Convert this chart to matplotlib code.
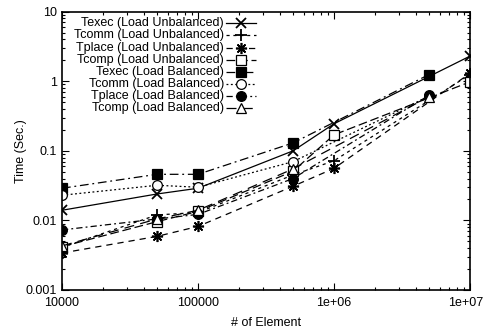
import matplotlib
matplotlib.use("Agg")
import matplotlib.pyplot as plt
from matplotlib.ticker import LogLocator, FixedLocator, FixedFormatter, NullFormatter
from matplotlib.transforms import ScaledTranslation

plt.rcParams['font.family'] = ['Liberation Sans', 'DejaVu Sans']

# ---- data ----
x_unbal = [1e4, 5e4, 1e5, 5e5, 1e6, 1e7]
x_bal = [1e4, 5e4, 1e5, 5e5, 5e6]

texec_unbal = [0.014, 0.024, 0.029, 0.10, 0.245, 2.3]
tcomm_unbal = [0.0041, 0.012, 0.013, 0.045, 0.072, 1.25]
tplace_unbal = [0.0034, 0.0059, 0.0082, 0.031, 0.056, 1.3]
tcomp_unbal = [0.0042, 0.0096, 0.0135, 0.051, 0.17, 0.98]

texec_bal = [0.029, 0.046, 0.046, 0.13, 1.25]
tcomm_bal = [0.023, 0.032, 0.030, 0.070, 0.61]
tplace_bal = [0.0073, 0.0105, 0.0122, 0.040, 0.63]
tcomp_bal = [0.0043, 0.0105, 0.014, 0.055, 0.60]

labels = ["Texec (Load Unbalanced)", "Tcomm (Load Unbalanced)",
          "Tplace (Load Unbalanced)", "Tcomp (Load Unbalanced)",
          "Texec (Load Balanced)", "Tcomm (Load Balanced)",
          "Tplace (Load Balanced)", "Tcomp (Load Balanced)"]

x_ticks = [1e4, 1e5, 1e6, 1e7]
x_ticklabels = ["10000", "100000", "1e+06", "1e+07"]
y_ticks = [0.001, 0.01, 0.1, 1, 10]
y_ticklabels = ["0.001", "0.01", "0.1", "1", "10"]

# ---- styles ----
series = [
    (x_unbal, texec_unbal, dict(linestyle='-', marker='x', mfc='black', ms=7, mew=1.3)),
    (x_unbal, tcomm_unbal, dict(linestyle=(0, (2.5, 3)), marker='+', mfc='black', ms=8, mew=1.3)),
    (x_unbal, tplace_unbal, dict(linestyle=(0, (5, 4)), marker=(8, 2, 0), mfc='black', ms=8, mew=1.2)),
    (x_unbal, tcomp_unbal, dict(linestyle=(0, (7, 3)), marker='s', mfc='white', ms=6.5, mew=0.9)),
    (x_bal, texec_bal, dict(linestyle=(0, (7, 3, 1.5, 3)), marker='s', mfc='black', ms=6.5, mew=0.9)),
    (x_bal, tcomm_bal, dict(linestyle=(0, (1.5, 2)), marker='o', mfc='white', ms=7, mew=0.9)),
    (x_bal, tplace_bal, dict(linestyle=(0, (5, 2.5, 1.5, 2.5)), marker='o', mfc='black', ms=7, mew=0.9)),
    (x_bal, tcomp_bal, dict(linestyle=(0, (8, 5)), marker='^', mfc='white', ms=6.5, mew=0.9)),
]

fig = plt.figure(figsize=(4.84, 3.31), dpi=100)
ax = fig.add_axes([62/484, 1 - 290/331, (470-62)/484, (290-11.7)/331])

for (xs, ys, st), lab in zip(series, labels):
    ax.plot(xs, ys, color='black', lw=0.9, mec='black', **st)

ax.set_xscale('log')
ax.set_yscale('log')
ax.set_xlim(1e4, 1e7)
ax.set_ylim(0.001, 10)

ax.xaxis.set_major_locator(FixedLocator(x_ticks))
ax.xaxis.set_major_formatter(FixedFormatter(x_ticklabels))
ax.yaxis.set_major_locator(FixedLocator(y_ticks))
ax.yaxis.set_major_formatter(FixedFormatter(y_ticklabels))
ax.xaxis.set_minor_locator(LogLocator(base=10, subs=range(2, 10)))
ax.yaxis.set_minor_locator(LogLocator(base=10, subs=range(2, 10)))
ax.xaxis.set_minor_formatter(NullFormatter())
ax.yaxis.set_minor_formatter(NullFormatter())
ax.tick_params(which='both', direction='in', top=True, right=True, labelsize=9, width=0.8)
ax.tick_params(which='major', length=5)
ax.tick_params(which='minor', length=2.5)
ax.tick_params(axis='x', pad=5)
for sp in ax.spines.values():
    sp.set_linewidth(1.2)

ax.set_xlabel("# of Element", fontsize=9, labelpad=6)
ax.set_ylabel("Time (Sec.)", fontsize=9, labelpad=-1)

fig.canvas.draw()
last = ax.get_xticklabels()[-1]
last.set_transform(last.get_transform() + ScaledTranslation(-4/100, 0, fig.dpi_scale_trans))

# manual legend: right-aligned labels, sample to the right
x_text = (224 - 62) / 408
x0, x1 = (226 - 62) / 408, (256 - 62) / 408
xm = (241 - 62) / 408
for i, ((xs, ys, st), lab) in enumerate(zip(series, labels)):
    yy = 1 - (23.3 + 12.14 * i - 11.7) / 278.3
    ax.text(x_text, yy, lab, transform=ax.transAxes, ha='right', va='center', fontsize=9)
    st2 = dict(st)
    mk = st2.pop('marker')
    ax.plot([x0, x1], [yy, yy], transform=ax.transAxes, color='black', lw=0.9,
            linestyle=st2.pop('linestyle'))
    ax.plot([xm], [yy], transform=ax.transAxes, color='black', marker=mk,
            mec='black', linestyle='none', **st2)

fig.savefig("out.png", dpi=100)
